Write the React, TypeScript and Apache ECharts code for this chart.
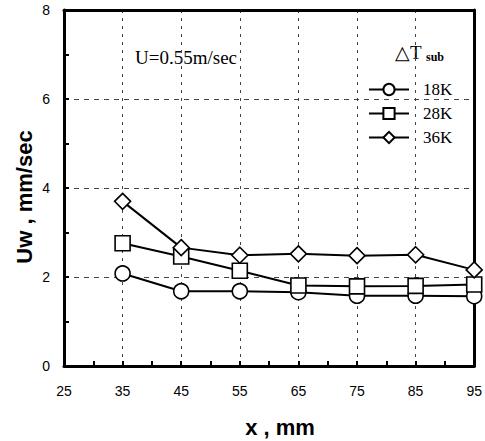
import React, { useEffect, useRef } from "react";
import * as echarts from "echarts";

const xValues = [35, 45, 55, 65, 75, 85, 95];
const s18K = [2.08, 1.68, 1.68, 1.66, 1.58, 1.58, 1.57];
const s28K = [2.76, 2.46, 2.14, 1.81, 1.79, 1.8, 1.83];
const s36K = [3.7, 2.66, 2.49, 2.52, 2.48, 2.5, 2.16];
const seriesNames = ["18K", "28K", "36K"];
const xTickLabels = ["25", "35", "45", "55", "65", "75", "85", "95"];
const yTickLabels = ["0", "2", "4", "6", "8"];

const pairs = (ys: number[]) => xValues.map((x, i) => [x, ys[i]]);

export default function App() {
  const ref = useRef<HTMLDivElement>(null);
  useEffect(() => {
    if (!ref.current) return;
    const chart = echarts.init(ref.current, undefined, { renderer: "svg" });
    const sans = "Liberation Sans, Arial, sans-serif";
    const serif = "Liberation Serif, Times New Roman, serif";
    const mk = (name: string, ys: number[], symbol: string, size: number, z: number) => ({
      name,
      type: "line",
      data: pairs(ys),
      symbol,
      symbolSize: size,
      showAllSymbol: true,
      z,
      lineStyle: { color: "#000", width: 2 },
      itemStyle: { color: "#fff", borderColor: "#000", borderWidth: 1.6 },
    });
    const frameAxis = {
      axisLine: { show: true, onZero: false, lineStyle: { color: "#000", width: 3 } },
      axisTick: { show: false },
      axisLabel: { show: false },
      splitLine: { show: false },
    };
    chart.setOption({
      animation: false,
      backgroundColor: "#fff",
      grid: {
        left: 64,
        right: 6,
        top: 10,
        bottom: 75,
      },
      legend: {
        data: seriesNames,
        orient: "vertical",
        left: 363,
        top: 76,
        itemWidth: 40,
        itemHeight: 14,
        itemGap: 7,
        textStyle: { fontFamily: serif, fontSize: 17, color: "#000", padding: [0, 0, 0, 9] },
        inactiveColor: "#000",
      },
      xAxis: [
        {
          type: "value",
          min: 25,
          max: 95,
          interval: 10,
          axisLine: { onZero: false, lineStyle: { color: "#000", width: 3 } },
          axisTick: { inside: true, length: 5, lineStyle: { color: "#000", width: 2 } },
          minorTick: { show: true, splitNumber: 2, length: 5, lineStyle: { color: "#000", width: 2 } },
          axisLabel: {
            margin: 18,
            fontFamily: sans,
            fontSize: 14,
            color: "#000",
            formatter: (v: number) => (xTickLabels.includes(String(v)) ? String(v) : ""),
          },
          splitLine: { show: true, lineStyle: { color: "#444", width: 1, type: [3, 5] } },
        },
        { type: "value", position: "top", min: 25, max: 95, interval: 10, ...frameAxis },
      ],
      yAxis: [
        {
          type: "value",
          min: 0,
          max: 8,
          interval: 2,
          axisLine: { onZero: false, lineStyle: { color: "#000", width: 3 } },
          axisTick: { inside: true, length: 5, lineStyle: { color: "#000", width: 2 } },
          minorTick: { show: true, splitNumber: 2, length: 5, lineStyle: { color: "#000", width: 2 } },
          axisLabel: {
            margin: 14,
            fontFamily: sans,
            fontSize: 14,
            color: "#000",
            formatter: (v: number) => (yTickLabels.includes(String(v)) ? String(v) : ""),
          },
          splitLine: { show: true, lineStyle: { color: "#444", width: 1, type: [5, 5] } },
        },
        { type: "value", position: "right", min: 0, max: 8, interval: 2, ...frameAxis },
      ],
      graphic: [
        {
          type: "text",
          x: 24,
          y: 197,
          rotation: Math.PI / 2,
          style: {
            text: "Uw , mm/sec",
            fontFamily: sans,
            fontWeight: "bold",
            fontSize: 22,
            fill: "#000",
            align: "center",
            verticalAlign: "middle",
          },
        },
        {
          type: "text",
          x: 280,
          y: 427,
          style: {
            text: "x , mm",
            fontFamily: sans,
            fontWeight: "bold",
            fontSize: 22,
            fill: "#000",
            align: "center",
            verticalAlign: "middle",
          },
        },
        {
          type: "text",
          x: 135,
          y: 57,
          style: {
            text: "U=0.55m/sec",
            fontFamily: serif,
            fontSize: 19,
            fill: "#000",
            align: "left",
            verticalAlign: "middle",
          },
        },
        {
          type: "text",
          x: 395,
          y: 52,
          style: {
            text: "△T",
            fontFamily: serif,
            fontSize: 19,
            fill: "#000",
            align: "left",
            verticalAlign: "middle",
          },
        },
        {
          type: "text",
          x: 426,
          y: 57,
          style: {
            text: "sub",
            fontFamily: serif,
            fontWeight: "bold",
            fontSize: 12,
            fill: "#000",
            align: "left",
            verticalAlign: "middle",
          },
        },
      ],
      series: [
        mk("18K", s18K, "circle", 15, 2),
        mk("28K", s28K, "rect", 15, 3),
        mk("36K", s36K, "diamond", 16, 4),
      ],
    });
    return () => chart.dispose();
  }, []);
  return (
    <div
      ref={ref}
      style={{ position: "absolute", left: 0, top: 0, width: 485, height: 441 }}
    />
  );
}
